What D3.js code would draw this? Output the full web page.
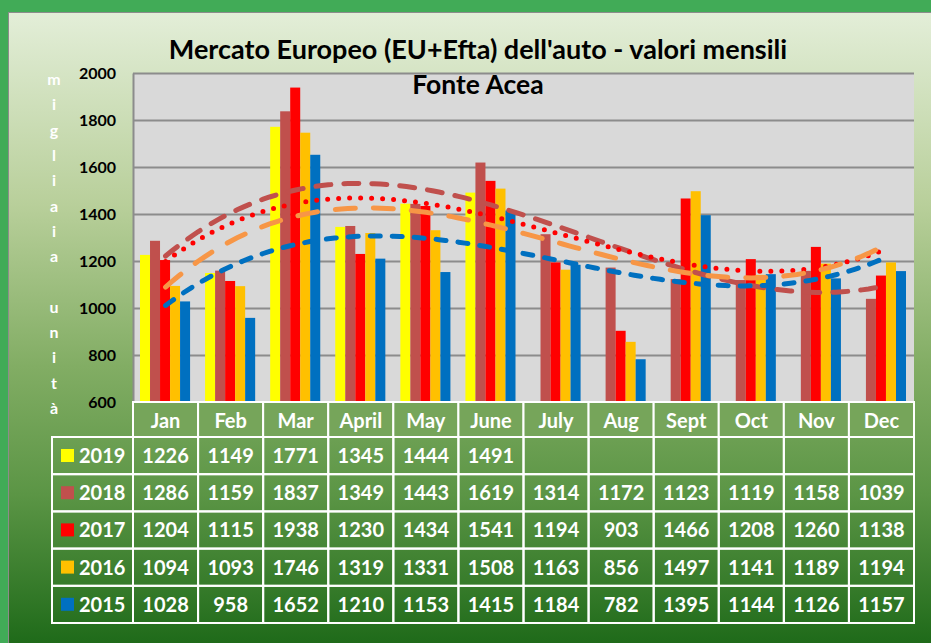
<!DOCTYPE html>
<html>
<head>
<meta charset="utf-8">
<title>Mercato Europeo - valori mensili</title>
<script src="https://cdn.jsdelivr.net/npm/d3@7"></script>
<style>
 body { margin: 0; background: #41ab57; }
 text { font-family: Lato, "Open Sans", sans-serif; font-weight: bold; }
 .axis .domain { stroke: #8c8c8c; stroke-width: 2; }
 .axis line { stroke: #8c8c8c; stroke-width: 2; }
</style>
</head>
<body>
<svg id="chart"></svg>
<script>
// data (thousands of units)
var months = ["Jan", "Feb", "Mar", "April", "May", "June", "July", "Aug", "Sept", "Oct", "Nov", "Dec"];
var years = ["2019", "2018", "2017", "2016", "2015"];
var v2019 = [1226, 1149, 1771, 1345, 1444, 1491, null, null, null, null, null, null];
var v2018 = [1286, 1159, 1837, 1349, 1443, 1619, 1314, 1172, 1123, 1119, 1158, 1039];
var v2017 = [1204, 1115, 1938, 1230, 1434, 1541, 1194, 903, 1466, 1208, 1260, 1138];
var v2016 = [1094, 1093, 1746, 1319, 1331, 1508, 1163, 856, 1497, 1141, 1189, 1194];
var v2015 = [1028, 958, 1652, 1210, 1153, 1415, 1184, 782, 1395, 1144, 1126, 1157];
var yTicks = [600, 800, 1000, 1200, 1400, 1600, 1800, 2000];
var axisLetters = ["m", "i", "g", "l", "i", "a", "i", "a", "", "u", "n", "i", "t", "à"];

var values = [v2019, v2018, v2017, v2016, v2015];
var colors = ["#ffff00", "#c0504d", "#ff0000", "#ffc000", "#0070c0"];
// polynomial trendlines (Excel style) for the complete years
var trends = [
  {year: "2018", color: "#c0504d", dash: "15 13"},
  {year: "2017", color: "#ff0000", dash: "0 11"},
  {year: "2016", color: "#f79646", dash: "20 18"},
  {year: "2015", color: "#0070c0", dash: "10 12"}
];

var W = 931, H = 643;
var pL = 133, pR = 914, pT = 73, pB = 402;
var rowTop = 437, rowH = 37.2, legLeft = 52;

var svg = d3.select("#chart").attr("width", W).attr("height", H);

var grad = svg.append("defs").append("linearGradient")
    .attr("id", "bg").attr("x1", 0).attr("y1", 0).attr("x2", 0).attr("y2", 1);
[[0, "#e3eed8"], [0.3, "#b8cf9a"], [0.55, "#82ad64"], [0.75, "#5b9545"], [1, "#1a6716"]]
  .forEach(function(s) { grad.append("stop").attr("offset", s[0]).attr("stop-color", s[1]); });

svg.append("rect").attr("width", W).attr("height", H).attr("fill", "#41ab57");
svg.append("rect").attr("x", 8.5).attr("y", 12.5).attr("width", W).attr("height", H)
   .attr("fill", "url(#bg)").attr("stroke", "#8c8c8c").attr("stroke-width", 1);

var x = d3.scaleBand().domain(months).range([pL, pR]);
var bw = x.bandwidth();
var xs = d3.scaleBand().domain(years).range([7, bw - 8]);
var y = d3.scaleLinear().domain([600, 2000]).range([pB, pT]);
var xt = d3.scaleLinear().domain([1, 12]).range([x(months[0]) + bw / 2, x(months[11]) + bw / 2]);

svg.append("rect").attr("x", pL).attr("y", pT).attr("width", pR - pL).attr("height", pB - pT)
   .attr("fill", "#d9d9d9");

var yAxis = svg.append("g").attr("class", "axis")
   .attr("transform", "translate(" + pL + ",0)")
   .call(d3.axisLeft(y).tickValues(yTicks).tickFormat(d3.format("d"))
         .tickSize(-(pR - pL)).tickPadding(17).tickSizeOuter(0));
yAxis.selectAll("text").attr("fill", "#000").style("font-size", "16px");

// bars
years.forEach(function(yr, i) {
  var pts = months.map(function(m, j) { return {m: m, v: values[i][j]}; })
                  .filter(function(d) { return d.v != null; });
  svg.append("g").selectAll("rect").data(pts).enter().append("rect")
     .attr("x", function(d) { return x(d.m) + xs(yr); })
     .attr("width", xs.bandwidth())
     .attr("y", function(d) { return y(d.v); })
     .attr("height", function(d) { return pB - y(d.v); })
     .attr("fill", colors[i]);
});

// least squares polynomial fit
function polyfit(vals, order) {
  var n = order + 1, A = [], b = [];
  for (var r = 0; r < n; r++) { A.push(new Array(n).fill(0)); b.push(0); }
  vals.forEach(function(v, j) {
    var t = j + 1;
    for (var r = 0; r < n; r++) {
      for (var c = 0; c < n; c++) A[r][c] += Math.pow(t, r + c);
      b[r] += v * Math.pow(t, r);
    }
  });
  for (var k = 0; k < n; k++) {
    for (var r = k + 1; r < n; r++) {
      var f = A[r][k] / A[k][k];
      for (var c = k; c < n; c++) A[r][c] -= f * A[k][c];
      b[r] -= f * b[k];
    }
  }
  var coef = new Array(n).fill(0);
  for (var k = n - 1; k >= 0; k--) {
    var s = b[k];
    for (var c = k + 1; c < n; c++) s -= A[k][c] * coef[c];
    coef[k] = s / A[k][k];
  }
  return function(t) { return coef.reduce(function(acc, a, p) { return acc + a * Math.pow(t, p); }, 0); };
}

var line = d3.line().x(function(d) { return xt(d[0]); }).y(function(d) { return y(d[1]); });
trends.forEach(function(tr) {
  var f = polyfit(values[years.indexOf(tr.year)], 3);
  var pts = d3.range(1, 12.001, 0.1).map(function(t) { return [t, f(t)]; });
  svg.append("path").datum(pts).attr("d", line)
     .attr("fill", "none").attr("stroke", tr.color).attr("stroke-width", 5)
     .attr("stroke-linecap", "round").attr("stroke-dasharray", tr.dash);
});

// titles
svg.append("text").attr("x", 478).attr("y", 59).attr("text-anchor", "middle")
   .style("font-size", "27px").attr("fill", "#000")
   .text("Mercato Europeo (EU+Efta) dell'auto - valori mensili");
svg.append("text").attr("x", 478).attr("y", 94).attr("text-anchor", "middle")
   .style("font-size", "26.5px").attr("fill", "#000").text("Fonte Acea");

// vertical axis label, one letter per line
svg.append("g").selectAll("text").data(axisLetters).enter().append("text")
   .attr("x", 54).attr("y", function(d, i) { return 85 + i * 25.3; })
   .attr("text-anchor", "middle").attr("fill", "#fff").style("font-size", "16px")
   .text(function(d) { return d; });

// data table
var table = svg.append("g");
var lineCol = "#fff";
table.append("g").selectAll("rect").data(months).enter().append("rect")
   .attr("x", function(d) { return x(d); }).attr("y", pB)
   .attr("width", bw).attr("height", rowTop - pB)
   .attr("fill", "#76a55a").attr("stroke", lineCol).attr("stroke-width", 2);
table.append("g").selectAll("text").data(months).enter().append("text")
   .attr("x", function(d) { return x(d) + bw / 2; }).attr("y", pB + 26)
   .attr("text-anchor", "middle").attr("fill", "#fff").style("font-size", "20px")
   .text(function(d) { return d; });

years.forEach(function(yr, i) {
  var ry = rowTop + i * rowH;
  var g = table.append("g");
  g.append("rect").attr("x", legLeft).attr("y", ry).attr("width", pL - legLeft).attr("height", rowH)
   .attr("fill", "none").attr("stroke", lineCol).attr("stroke-width", 2);
  g.append("rect").attr("x", 61).attr("y", ry + 12).attr("width", 13).attr("height", 13).attr("fill", colors[i]);
  g.append("text").attr("x", 79).attr("y", ry + 26).attr("fill", "#fff").style("font-size", "20px").text(yr);
  g.selectAll("rect.cell").data(months).enter().append("rect").attr("class", "cell")
   .attr("x", function(d) { return x(d); }).attr("y", ry).attr("width", bw).attr("height", rowH)
   .attr("fill", "none").attr("stroke", lineCol).attr("stroke-width", 2);
  g.selectAll("text.val").data(values[i]).enter().append("text").attr("class", "val")
   .attr("x", function(d, j) { return x(months[j]) + bw / 2; }).attr("y", ry + 26)
   .attr("text-anchor", "middle").attr("fill", "#fff").style("font-size", "20px")
   .text(function(d) { return d == null ? "" : d; });
});
</script>
</body>
</html>
